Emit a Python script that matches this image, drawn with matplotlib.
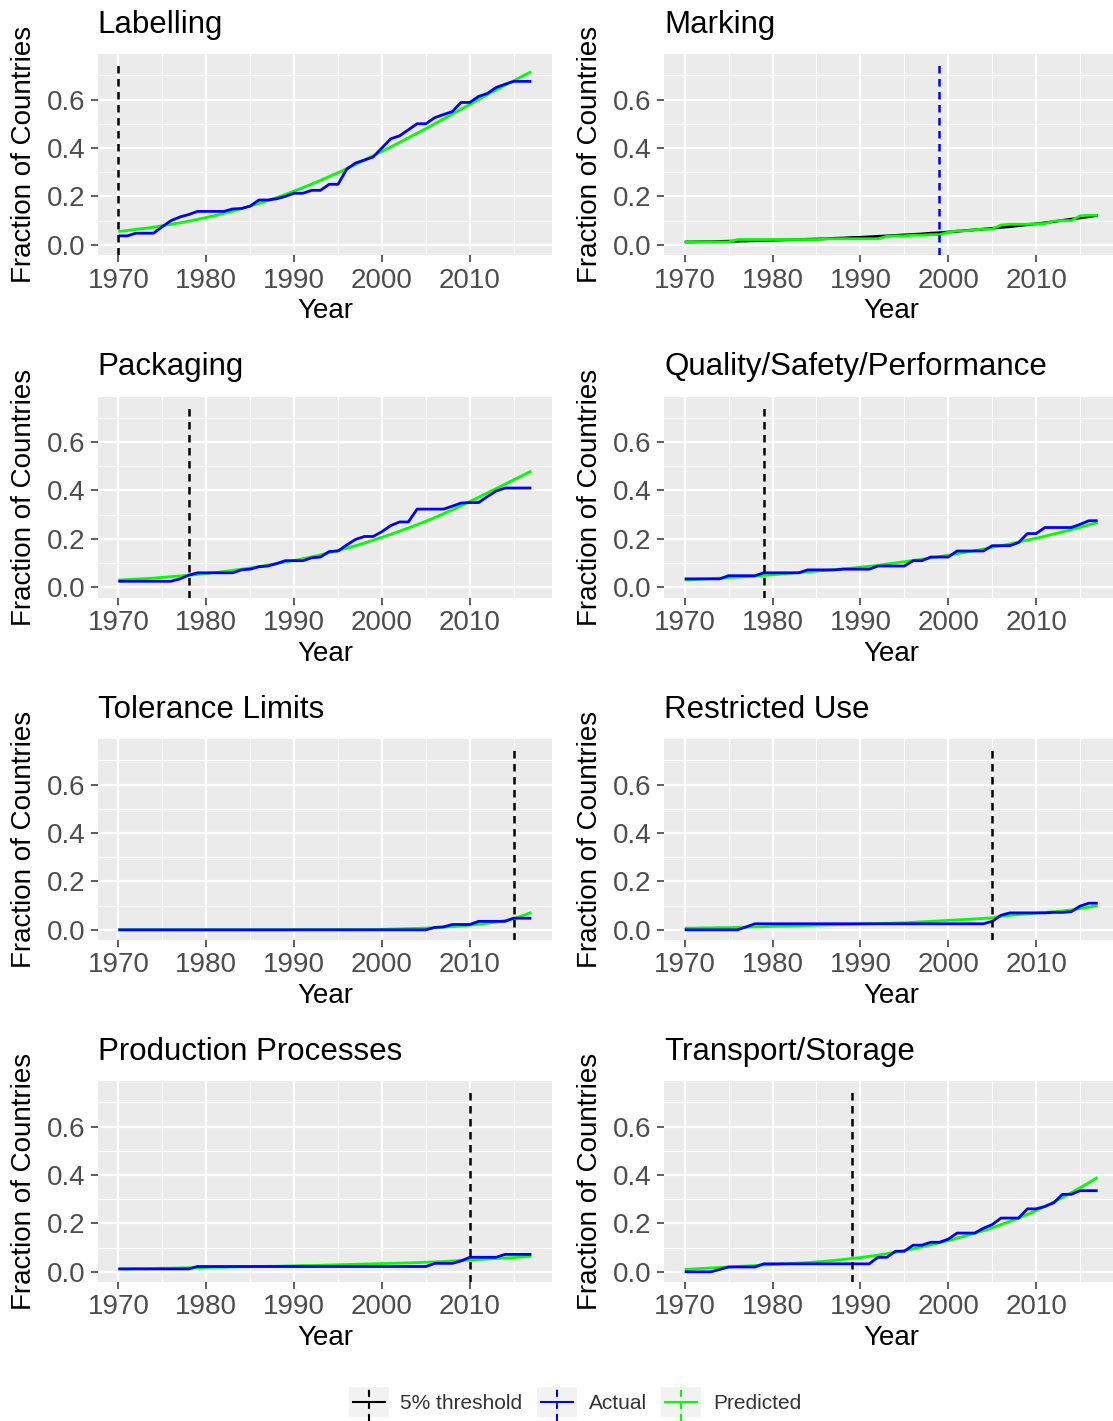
import matplotlib
matplotlib.use("Agg")
import matplotlib.pyplot as plt
from matplotlib.lines import Line2D
from matplotlib.patches import Rectangle
from matplotlib.legend_handler import HandlerBase
from matplotlib.ticker import MultipleLocator, FormatStrFormatter

plt.rcParams['font.family'] = ['Liberation Sans', 'DejaVu Sans']

# ---------------- data ----------------
years = list(range(1970, 2018))

categories = ["Labelling", "Marking", "Packaging", "Quality/Safety/Performance",
              "Tolerance Limits", "Restricted Use", "Production Processes",
              "Transport/Storage"]

thresholds = [1970, 1999, 1978, 1979, 2015, 2005, 2010, 1989]

labelling_actual = [0.037, 0.037, 0.048, 0.048, 0.048, 0.075, 0.100, 0.115, 0.125, 0.138,
                    0.138, 0.138, 0.138, 0.148, 0.150, 0.160, 0.185, 0.185, 0.190, 0.200,
                    0.213, 0.213, 0.225, 0.225, 0.250, 0.250, 0.313, 0.338, 0.350, 0.363,
                    0.400, 0.438, 0.450, 0.475, 0.500, 0.500, 0.525, 0.538, 0.550, 0.588,
                    0.588, 0.613, 0.625, 0.650, 0.663, 0.675, 0.675, 0.675]
labelling_pred = [0.055, 0.059, 0.064, 0.068, 0.073, 0.079, 0.085, 0.091, 0.098, 0.105,
                  0.113, 0.121, 0.130, 0.139, 0.149, 0.160, 0.171, 0.183, 0.195, 0.208,
                  0.222, 0.236, 0.251, 0.266, 0.282, 0.298, 0.315, 0.332, 0.350, 0.368,
                  0.386, 0.404, 0.423, 0.442, 0.461, 0.480, 0.500, 0.520, 0.540, 0.560,
                  0.580, 0.600, 0.620, 0.640, 0.659, 0.678, 0.697, 0.715]

marking_actual = [0.012, 0.012, 0.012, 0.012, 0.012, 0.012, 0.022, 0.022, 0.022, 0.022,
                  0.022, 0.022, 0.022, 0.022, 0.022, 0.022, 0.025, 0.025, 0.025, 0.025,
                  0.025, 0.025, 0.025, 0.035, 0.037, 0.037, 0.040, 0.040, 0.042, 0.042,
                  0.052, 0.058, 0.058, 0.062, 0.065, 0.065, 0.082, 0.085, 0.085, 0.085,
                  0.087, 0.088, 0.098, 0.100, 0.100, 0.120, 0.122, 0.122]
marking_pred = [0.012, 0.012, 0.013, 0.013, 0.014, 0.015, 0.015, 0.016, 0.017, 0.018,
                0.019, 0.020, 0.021, 0.022, 0.023, 0.024, 0.025, 0.027, 0.028, 0.030,
                0.031, 0.033, 0.035, 0.037, 0.039, 0.041, 0.043, 0.045, 0.048, 0.050,
                0.053, 0.056, 0.059, 0.062, 0.065, 0.068, 0.072, 0.075, 0.079, 0.083,
                0.087, 0.091, 0.096, 0.101, 0.106, 0.111, 0.116, 0.122]

packaging_actual = [0.025, 0.025, 0.025, 0.025, 0.025, 0.025, 0.025, 0.035, 0.050, 0.060,
                    0.060, 0.060, 0.060, 0.060, 0.072, 0.075, 0.085, 0.088, 0.098, 0.110,
                    0.110, 0.110, 0.122, 0.125, 0.148, 0.150, 0.175, 0.198, 0.210, 0.210,
                    0.230, 0.255, 0.270, 0.270, 0.323, 0.323, 0.323, 0.323, 0.335, 0.348,
                    0.350, 0.350, 0.375, 0.398, 0.410, 0.410, 0.410, 0.410]
packaging_pred = [0.030, 0.032, 0.034, 0.036, 0.038, 0.041, 0.044, 0.047, 0.050, 0.053,
                  0.057, 0.061, 0.065, 0.070, 0.075, 0.080, 0.086, 0.092, 0.098, 0.104,
                  0.111, 0.118, 0.126, 0.134, 0.143, 0.152, 0.162, 0.172, 0.183, 0.195,
                  0.207, 0.219, 0.232, 0.245, 0.259, 0.273, 0.288, 0.304, 0.320, 0.337,
                  0.354, 0.372, 0.390, 0.408, 0.426, 0.444, 0.462, 0.480]

quality_actual = [0.035, 0.035, 0.035, 0.035, 0.035, 0.048, 0.048, 0.048, 0.048, 0.060,
                  0.060, 0.060, 0.060, 0.060, 0.072, 0.072, 0.072, 0.072, 0.075, 0.075,
                  0.075, 0.075, 0.088, 0.088, 0.088, 0.088, 0.110, 0.110, 0.125, 0.125,
                  0.125, 0.150, 0.150, 0.150, 0.150, 0.172, 0.172, 0.172, 0.185, 0.222,
                  0.222, 0.247, 0.247, 0.247, 0.247, 0.260, 0.275, 0.275]
quality_pred = [0.030, 0.032, 0.034, 0.036, 0.038, 0.040, 0.042, 0.044, 0.046, 0.049,
                0.052, 0.055, 0.058, 0.061, 0.064, 0.067, 0.070, 0.073, 0.076, 0.079,
                0.083, 0.087, 0.091, 0.096, 0.101, 0.106, 0.111, 0.116, 0.121, 0.127,
                0.133, 0.139, 0.145, 0.151, 0.158, 0.165, 0.172, 0.179, 0.187, 0.195,
                0.203, 0.211, 0.220, 0.229, 0.238, 0.248, 0.258, 0.268]

tolerance_actual = [0.0, 0.0, 0.0, 0.0, 0.0, 0.0, 0.0, 0.0, 0.0, 0.0,
                    0.0, 0.0, 0.0, 0.0, 0.0, 0.0, 0.0, 0.0, 0.0, 0.0,
                    0.0, 0.0, 0.0, 0.0, 0.0, 0.0, 0.0, 0.0, 0.0, 0.0,
                    0.0, 0.0, 0.0, 0.0, 0.0, 0.0, 0.010, 0.012, 0.022, 0.022,
                    0.022, 0.035, 0.035, 0.035, 0.035, 0.048, 0.048, 0.048]
tolerance_pred = [0.000, 0.000, 0.000, 0.000, 0.000, 0.000, 0.000, 0.000, 0.000, 0.000,
                  0.000, 0.000, 0.000, 0.000, 0.000, 0.000, 0.000, 0.000, 0.000, 0.000,
                  0.001, 0.001, 0.001, 0.001, 0.001, 0.001, 0.001, 0.001, 0.001, 0.001,
                  0.002, 0.003, 0.004, 0.005, 0.006, 0.007, 0.009, 0.011, 0.013, 0.016,
                  0.019, 0.023, 0.027, 0.032, 0.038, 0.047, 0.058, 0.072]

restricted_actual = [0.0, 0.0, 0.0, 0.0, 0.0, 0.0, 0.0, 0.012, 0.025, 0.025,
                     0.025, 0.025, 0.025, 0.025, 0.025, 0.025, 0.025, 0.025, 0.025, 0.025,
                     0.025, 0.025, 0.025, 0.025, 0.025, 0.025, 0.025, 0.025, 0.025, 0.025,
                     0.025, 0.025, 0.025, 0.025, 0.025, 0.035, 0.060, 0.070, 0.070, 0.070,
                     0.070, 0.070, 0.072, 0.072, 0.075, 0.098, 0.110, 0.110]
restricted_pred = [0.007, 0.007, 0.008, 0.008, 0.009, 0.009, 0.010, 0.011, 0.012, 0.013,
                   0.014, 0.015, 0.016, 0.017, 0.018, 0.019, 0.020, 0.021, 0.022, 0.023,
                   0.024, 0.025, 0.026, 0.027, 0.028, 0.029, 0.031, 0.033, 0.035, 0.037,
                   0.039, 0.041, 0.043, 0.045, 0.047, 0.050, 0.056, 0.060, 0.063, 0.066,
                   0.069, 0.072, 0.075, 0.078, 0.082, 0.088, 0.094, 0.100]

production_actual = [0.012, 0.012, 0.012, 0.012, 0.012, 0.012, 0.012, 0.012, 0.012, 0.022,
                     0.022, 0.022, 0.022, 0.022, 0.022, 0.022, 0.022, 0.022, 0.022, 0.022,
                     0.022, 0.022, 0.022, 0.022, 0.022, 0.022, 0.022, 0.022, 0.022, 0.022,
                     0.022, 0.022, 0.022, 0.022, 0.022, 0.022, 0.035, 0.035, 0.035, 0.045,
                     0.060, 0.060, 0.060, 0.060, 0.072, 0.072, 0.072, 0.072]
production_pred = [0.012, 0.012, 0.013, 0.013, 0.014, 0.015, 0.015, 0.016, 0.017, 0.017,
                   0.018, 0.019, 0.019, 0.020, 0.021, 0.021, 0.022, 0.023, 0.023, 0.024,
                   0.025, 0.026, 0.026, 0.027, 0.028, 0.029, 0.030, 0.031, 0.032, 0.033,
                   0.034, 0.035, 0.036, 0.037, 0.038, 0.040, 0.041, 0.043, 0.045, 0.047,
                   0.049, 0.051, 0.053, 0.055, 0.057, 0.059, 0.062, 0.065]

transport_actual = [0.0, 0.0, 0.0, 0.0, 0.010, 0.020, 0.020, 0.020, 0.020, 0.033,
                    0.033, 0.033, 0.033, 0.033, 0.033, 0.033, 0.033, 0.033, 0.033, 0.033,
                    0.033, 0.033, 0.060, 0.060, 0.085, 0.085, 0.110, 0.110, 0.122, 0.122,
                    0.135, 0.160, 0.160, 0.160, 0.180, 0.195, 0.222, 0.222, 0.222, 0.260,
                    0.260, 0.270, 0.285, 0.320, 0.320, 0.335, 0.335, 0.335]
transport_pred = [0.010, 0.012, 0.014, 0.016, 0.018, 0.020, 0.022, 0.024, 0.026, 0.028,
                  0.030, 0.032, 0.034, 0.036, 0.038, 0.041, 0.044, 0.047, 0.051, 0.055,
                  0.059, 0.064, 0.069, 0.075, 0.081, 0.088, 0.095, 0.103, 0.111, 0.120,
                  0.129, 0.139, 0.149, 0.159, 0.170, 0.182, 0.195, 0.208, 0.222, 0.237,
                  0.253, 0.270, 0.288, 0.307, 0.327, 0.347, 0.368, 0.390]

actual_series = [labelling_actual, marking_actual, packaging_actual, quality_actual,
                 tolerance_actual, restricted_actual, production_actual, transport_actual]
pred_series = [labelling_pred, marking_pred, packaging_pred, quality_pred,
               tolerance_pred, restricted_pred, production_pred, transport_pred]

# ---------------- style ----------------
BLUE, GREEN, BLACK = "#0000FF", "#00FF00", "#000000"
# (actual colour, predicted colour, threshold colour) ; Marking panel has swapped mapping
panel_colors = {"Marking": (GREEN, BLACK, BLUE)}
default_colors = (BLUE, GREEN, BLACK)

W, H = 1113, 1421
fig = plt.figure(figsize=(W / 100, H / 100), dpi=100)

col_left = [97.7, 664.0]
row_top = [54.0, 396.5, 739.0, 1081.0]
pw, ph = 454.3, 201.0
YLIM = (-0.042, 0.788)
VTOP = 0.76
DASH = (3.0, 2.2)

for i, cat in enumerate(categories):
    r, c = divmod(i, 2)
    ax = fig.add_axes([col_left[c] / W, 1 - (row_top[r] + ph) / H, pw / W, ph / H])
    ax.set_facecolor("#EBEBEB")
    for s in ax.spines.values():
        s.set_visible(False)
    ca, cp, ct = panel_colors.get(cat, default_colors)
    ax.plot(years, pred_series[i], color=cp, lw=2.0, solid_capstyle='butt', zorder=3)
    ax.plot(years, actual_series[i], color=ca, lw=2.0, solid_capstyle='butt', zorder=4)
    ax.set_xlim(1967.65, 2019.35)
    ax.set_ylim(*YLIM)
    frac = (VTOP - YLIM[0]) / (YLIM[1] - YLIM[0])
    ax.axvline(thresholds[i], ymin=0, ymax=frac, color=ct, lw=1.8,
               linestyle=(0, DASH), zorder=5)

    ax.set_xticks([1970, 1980, 1990, 2000, 2010])
    ax.xaxis.set_minor_locator(MultipleLocator(5))
    ax.set_yticks([0.0, 0.2, 0.4, 0.6])
    ax.yaxis.set_minor_locator(MultipleLocator(0.1))
    ax.yaxis.set_major_formatter(FormatStrFormatter('%.1f'))
    ax.grid(which='major', color='white', lw=1.6)
    ax.grid(which='minor', color='white', lw=0.8)
    ax.set_axisbelow(True)
    ax.tick_params(which='major', length=5, width=1.1, color='#333333',
                   labelsize=20, labelcolor='#4D4D4D', pad=4)
    ax.tick_params(which='minor', length=0)

    ax.set_xlabel("Year", fontsize=20, color='black', va='center')
    ax.xaxis.set_label_coords(0.5, -56 / ph)
    ax.set_ylabel("Fraction of Countries", fontsize=20, color='black', va='center')
    ax.yaxis.set_label_coords(-74 / pw, 0.5)
    ax.text(0.0, 1 + 21 / ph, cat, transform=ax.transAxes, fontsize=22.5,
            color='black', ha='left', va='baseline')


class CrossKey(HandlerBase):
    def create_artists(self, legend, orig_handle, xdescent, ydescent,
                       width, height, fontsize, trans):
        col = orig_handle.get_color()
        x0, y0 = -xdescent, -ydescent
        rect = Rectangle((x0, y0), width, height, facecolor='#F2F2F2',
                         edgecolor='none', transform=trans)
        hl = Line2D([x0 + 0.1 * width, x0 + 0.9 * width], [y0 + height / 2] * 2,
                    color=col, lw=1.5, transform=trans)
        vl = Line2D([x0 + width / 2] * 2, [y0 - 0.1 * height, y0 + height * 1.05],
                    color=col, lw=1.5, linestyle=(0, (3.4, 2.4)), transform=trans)
        return [rect, hl, vl]


handles = [Line2D([], [], color=BLACK), Line2D([], [], color=BLUE), Line2D([], [], color=GREEN)]
labels = ["5% threshold", "Actual", "Predicted"]
fig.legend(handles, labels, loc='center', bbox_to_anchor=(575 / W, 1 - 1402 / H),
           ncol=3, frameon=False, fontsize=15, handlelength=1.92, handleheight=1.9,
           handletextpad=0.55, columnspacing=0.7, borderpad=0, labelcolor='#333333',
           handler_map={Line2D: CrossKey()})

fig.savefig("out.png", dpi=100)
